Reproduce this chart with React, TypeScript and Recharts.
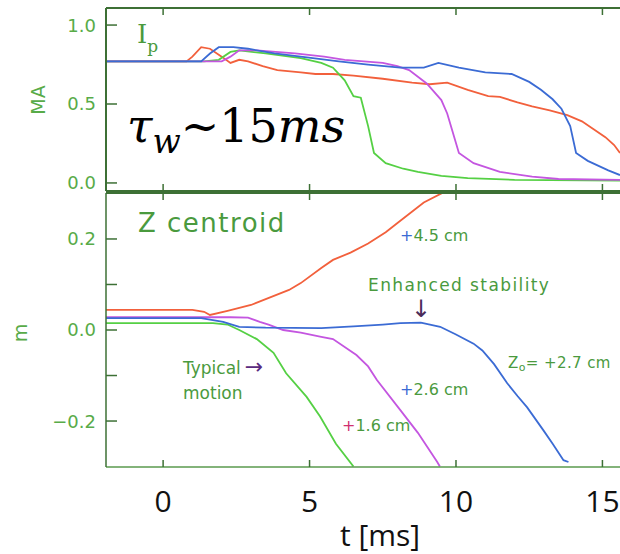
import React from 'react';
import { LineChart, Line, XAxis, YAxis } from 'recharts';

// ---- data ----
const tDomain: [number, number] = [-1.95, 15.6];
const xTicks = [0, 5, 10, 15];
const ipDomain: [number, number] = [-0.051, 1.108];
const ipTicks = [0, 0.5, 1.0];
const zDomain: [number, number] = [-0.301, 0.301];
const zTicks = [-0.2, -0.1, 0, 0.1, 0.2];
const zLabeledTicks = [-0.2, 0, 0.2];

const ipRed: [number, number][] = [[-1.95,0.77],[0.8,0.77],[1.0,0.80],[1.3,0.86],[1.6,0.85],[2.0,0.80],[2.3,0.76],[2.6,0.78],[2.9,0.77],[3.4,0.74],[3.9,0.715],[4.7,0.70],[5.2,0.69],[5.8,0.69],[6.5,0.68],[7.5,0.66],[8.5,0.635],[9.1,0.625],[9.7,0.635],[10.4,0.59],[11.1,0.55],[11.5,0.545],[12.1,0.51],[12.6,0.485],[13.2,0.46],[13.8,0.43],[14.3,0.39],[14.7,0.34],[15.1,0.29],[15.4,0.24],[15.6,0.19]];
const ipBlue: [number, number][] = [[-1.95,0.77],[1.3,0.77],[1.6,0.82],[1.9,0.86],[2.4,0.86],[2.9,0.85],[3.8,0.82],[4.7,0.80],[6.0,0.77],[7.0,0.75],[8.1,0.73],[8.9,0.73],[9.4,0.76],[10.1,0.73],[11.0,0.70],[11.9,0.69],[12.5,0.64],[12.9,0.59],[13.3,0.53],[13.6,0.47],[13.9,0.36],[14.1,0.19],[14.5,0.14],[15.2,0.08],[15.6,0.05]];
const ipGreen: [number, number][] = [[-1.95,0.77],[1.4,0.77],[1.9,0.78],[2.3,0.83],[2.6,0.84],[3.5,0.82],[4.7,0.79],[5.4,0.76],[5.8,0.73],[6.2,0.65],[6.5,0.55],[6.75,0.54],[7.0,0.36],[7.2,0.19],[7.6,0.125],[8.2,0.09],[8.7,0.07],[9.5,0.045],[10.4,0.03],[12.0,0.02],[15.6,0.015]];
const ipMagenta: [number, number][] = [[-1.95,0.77],[2.0,0.77],[2.3,0.80],[2.6,0.84],[3.2,0.84],[4.5,0.82],[5.5,0.80],[6.2,0.78],[7.5,0.76],[8.0,0.74],[8.4,0.715],[9.0,0.63],[9.5,0.525],[9.7,0.44],[9.9,0.315],[10.1,0.19],[10.6,0.125],[11.5,0.07],[12.6,0.04],[13.5,0.025],[15.6,0.02]];

const zRed: [number, number][] = [[-1.95,0.044],[1.0,0.044],[1.4,0.04],[1.6,0.033],[2.2,0.042],[3.0,0.055],[4.3,0.088],[4.7,0.103],[5.4,0.136],[5.8,0.154],[6.4,0.17],[7.0,0.19],[7.6,0.215],[8.1,0.24],[8.9,0.28],[9.5,0.30],[9.6,0.305]];
const zBlue: [number, number][] = [[-1.95,0.026],[1.3,0.026],[2.05,0.018],[2.6,0.007],[3.5,0.005],[5.4,0.004],[6.5,0.008],[7.5,0.012],[8.1,0.015],[8.8,0.016],[9.46,0.007],[10.0,-0.01],[10.6,-0.03],[10.9,-0.045],[11.3,-0.075],[11.75,-0.117],[12.1,-0.145],[12.43,-0.17],[12.98,-0.22],[13.3,-0.25],[13.67,-0.286],[13.84,-0.29]];
const zMagenta: [number, number][] = [[-1.95,0.028],[2.3,0.028],[2.9,0.027],[3.3,0.018],[3.6,0.012],[4.1,0.0],[4.7,-0.006],[5.4,-0.015],[5.8,-0.02],[6.6,-0.055],[7.0,-0.08],[7.3,-0.11],[8.1,-0.176],[8.7,-0.226],[9.36,-0.29],[9.45,-0.30]];
const zGreen: [number, number][] = [[-1.95,0.015],[1.7,0.015],[2.2,0.012],[2.6,0.0],[3.2,-0.02],[3.77,-0.05],[4.2,-0.095],[4.9,-0.147],[5.36,-0.19],[5.9,-0.25],[6.5,-0.30]];

// ---- styles ----
const RED = '#f2603c';
const GREEN = '#55d044';
const MAGENTA = '#c456e0';
const BLUE = '#3b6bd4';
const FRAME = '#3d7035';
const LABEL = '#58ab48';
const ANN = '#4a9a3e';
const SANS = '"DejaVu Sans", sans-serif';

const pts = (a: [number, number][]) => a.map(([t, v]) => ({ t, v }));

const fmt = (v: number) => {
  if (Math.abs(v) < 1e-9) return '0.0';
  return v < 0 ? '\u2212' + Math.abs(v).toFixed(1) : v.toFixed(1);
};

const makeYTick = (labeled: number[]) => (p: any) => {
  const v = p.payload.value;
  const show = labeled.some((l) => Math.abs(l - v) < 1e-9);
  return (
    <g>
      <line x1={p.x} x2={p.x + 11} y1={p.y} y2={p.y} stroke={FRAME} strokeWidth={1.5} />
      {show && (
        <text x={p.x - 10} y={p.y} dy="0.36em" textAnchor="end" fill={LABEL} fontFamily={SANS} fontSize={18}>
          {fmt(v)}
        </text>
      )}
    </g>
  );
};

const bottomTickLines = (p: any) => (
  <line x1={p.x} x2={p.x} y1={p.y} y2={p.y - 7} stroke={FRAME} strokeWidth={1.5} />
);
const topTickLines = (p: any) => (
  <line x1={p.x} x2={p.x} y1={p.y} y2={p.y + 7} stroke={FRAME} strokeWidth={1.5} />
);
const bottomTickLabeled = (p: any) => (
  <g>
    <line x1={p.x} x2={p.x} y1={p.y} y2={p.y - 7} stroke={FRAME} strokeWidth={1.5} />
    <text x={p.x} y={p.y + 45} textAnchor="middle" fill="#111" fontFamily='"Open Sans", sans-serif' fontSize={30}>
      {p.payload.value}
    </text>
  </g>
);

const series = (data: [number, number][][], colors: string[]) =>
  data.map((d, i) => (
    <Line
      key={i}
      data={pts(d)}
      dataKey="v"
      xAxisId="b"
      stroke={colors[i]}
      strokeWidth={1.8}
      dot={false}
      isAnimationActive={false}
      type="linear"
    />
  ));

export default function App() {
  return (
    <div style={{ position: 'absolute', left: 0, top: 0, width: 620, height: 554, background: '#fff', overflow: 'hidden' }}>
      <div style={{ position: 'absolute', left: 0, top: 0 }}>
        <LineChart width={620} height={200} margin={{ top: 0, right: 0, bottom: 0, left: 0 }}>
          <XAxis xAxisId="t" orientation="top" type="number" dataKey="t" domain={tDomain} allowDataOverflow ticks={xTicks} height={8} tickSize={0} tickMargin={0} tickLine={false} axisLine={{ stroke: FRAME, strokeWidth: 2 }} tick={topTickLines} />
          <XAxis xAxisId="b" orientation="bottom" type="number" dataKey="t" domain={tDomain} allowDataOverflow ticks={xTicks} height={9} tickSize={0} tickMargin={0} tickLine={false} axisLine={{ stroke: FRAME, strokeWidth: 2 }} tick={bottomTickLines} />
          <YAxis type="number" domain={ipDomain} allowDataOverflow ticks={ipTicks} width={106} tickSize={0} tickMargin={0} tickLine={false} axisLine={{ stroke: FRAME, strokeWidth: 2 }} tick={makeYTick(ipTicks)} />
          {series([ipRed, ipGreen, ipMagenta, ipBlue], [RED, GREEN, MAGENTA, BLUE])}
        </LineChart>
      </div>
      <div style={{ position: 'absolute', left: 0, top: 185 }}>
        <LineChart width={620} height={369} margin={{ top: 0, right: 0, bottom: 0, left: 0 }}>
          <XAxis xAxisId="t" orientation="top" type="number" dataKey="t" domain={tDomain} allowDataOverflow ticks={xTicks} height={8} tickSize={0} tickMargin={0} tickLine={false} axisLine={{ stroke: FRAME, strokeWidth: 2 }} tick={topTickLines} />
          <XAxis xAxisId="b" orientation="bottom" type="number" dataKey="t" domain={tDomain} allowDataOverflow ticks={xTicks} height={87} tickSize={0} tickMargin={0} tickLine={false} axisLine={{ stroke: '#5a9a4e', strokeWidth: 1.5 }} tick={bottomTickLabeled} />
          <YAxis type="number" domain={zDomain} allowDataOverflow ticks={zTicks} width={106} tickSize={0} tickMargin={0} tickLine={false} axisLine={{ stroke: FRAME, strokeWidth: 1.5 }} tick={makeYTick(zLabeledTicks)} />
          {series([zRed, zGreen, zMagenta, zBlue], [RED, GREEN, MAGENTA, BLUE])}
        </LineChart>
      </div>
      <svg width={620} height={554} style={{ position: 'absolute', left: 0, top: 0, pointerEvents: 'none' }}>
        <text transform="translate(45,100) rotate(-90)" textAnchor="middle" fill={LABEL} fontFamily={SANS} fontSize={19}>MA</text>
        <text transform="translate(27,333) rotate(-90)" textAnchor="middle" fill={LABEL} fontFamily={SANS} fontSize={19}>m</text>
        <text x={137} y={43} fill={ANN} fontFamily='"DejaVu Serif", serif' fontSize={26}>I<tspan fontSize={17} dy={9}>p</tspan></text>
        <text x={138} y={232} fill={ANN} fontFamily={SANS} fontSize={26} letterSpacing={1.5}>Z centroid</text>
        <text x={127} y={142} fill="#000" fontFamily='"DejaVu Serif", serif' fontSize={46} fontStyle="italic">
          τ<tspan fontSize={33} dy={11}>w</tspan><tspan dy={-11} fontStyle="normal">~15</tspan>ms
        </text>
        <text x={400} y={241} fill={ANN} fontFamily={SANS} fontSize={16}><tspan fill={BLUE}>+</tspan>4.5 cm</text>
        <text x={368} y={291} fill={ANN} fontFamily={SANS} fontSize={17} letterSpacing={1.4}>Enhanced stability</text>
        <text x={421} y={317} textAnchor="middle" fill="#4a2c5a" fontFamily={SANS} fontSize={24}>↓</text>
        <text x={508} y={368} fill={ANN} fontFamily={SANS} fontSize={15} letterSpacing={0.4}>Z<tspan fontSize={11} dy={3}>o</tspan><tspan dy={-3}>= +2.7 cm</tspan></text>
        <text x={183} y={374} fill={ANN} fontFamily={SANS} fontSize={17}>Typical<tspan fill="#5a2a80" fontSize={22} dx={4}>→</tspan></text>
        <text x={183} y={399} fill={ANN} fontFamily={SANS} fontSize={17}>motion</text>
        <text x={400} y={395} fill={ANN} fontFamily={SANS} fontSize={16}><tspan fill={BLUE}>+</tspan>2.6 cm</text>
        <text x={342} y={431} fill={ANN} fontFamily={SANS} fontSize={16}><tspan fill="#d03070">+</tspan>1.6 cm</text>
        <text x={380} y={546} textAnchor="middle" fill="#111" fontFamily='"Open Sans", sans-serif' fontSize={30}>t [ms]</text>
      </svg>
    </div>
  );
}
